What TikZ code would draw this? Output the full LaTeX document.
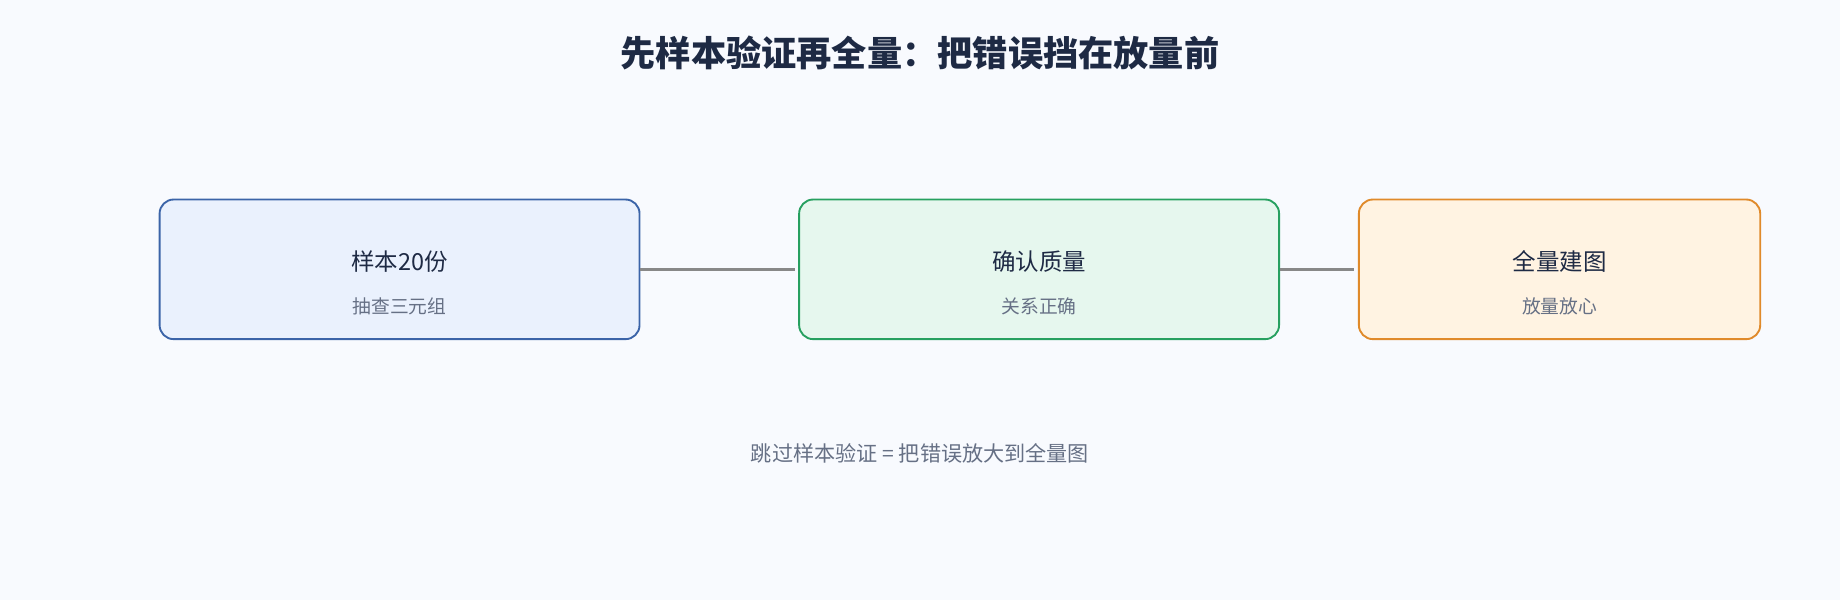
\documentclass[tikz,border=0pt]{standalone}
\usepackage{fontspec}
\setmainfont{Noto Sans CJK SC}
\usetikzlibrary{positioning}
\definecolor{bgcol}{HTML}{F8FAFE}
\definecolor{titlecol}{HTML}{1E2A44}
\definecolor{subcol}{HTML}{667085}
\definecolor{bluefill}{HTML}{EAF1FD}
\definecolor{blueline}{HTML}{3B64A8}
\definecolor{greenfill}{HTML}{E6F7EE}
\definecolor{greenline}{HTML}{27A060}
\definecolor{orangefill}{HTML}{FFF3E2}
\definecolor{orangeline}{HTML}{E08A2A}
\definecolor{linkcol}{HTML}{888888}
\begin{document}
\begin{tikzpicture}[x=0.5pt,y=-0.5pt]
        % Define styles for nodes and edges
        \tikzset{
          stage/.style={rectangle, rounded corners=6pt, line width=0.8pt, minimum height=59.5pt},
          head/.style={text=titlecol, font=\fontsize{10}{12}\selectfont},
          sub/.style={text=subcol, font=\fontsize{8}{10}\selectfont},
          link/.style={line width=1.5pt, draw=linkcol}
        }
        \fill[bgcol] (0,0) rectangle (1568,511);
        \useasboundingbox (0,0) rectangle (1568,511);

        % Title
        \node[text=titlecol, font=\fontsize{15}{18}\selectfont\bfseries] (title) at (784,45) {先样本验证再全量：把错误挡在放量前};

        % Nodes
        \node[stage, fill=bluefill, draw=blueline, minimum width=204.5pt] (sample) at (340.5,229.5) {};
        \node[stage, fill=greenfill, draw=greenline, minimum width=204.5pt] (check) at (885.5,229.5) {};
        \node[stage, fill=orangefill, draw=orangeline, minimum width=171pt] (full) at (1329,229.5) {};
        \node[head] (sampleh) at (340.5,223) {样本20份};
        \node[sub] (samples) at (340.5,261) {抽查三元组};
        \node[head] (checkh) at (885.5,223) {确认质量};
        \node[sub] (checks) at (885.5,261) {关系正确};
        \node[head] (fullh) at (1329,223) {全量建图};
        \node[sub] (fulls) at (1329,261) {放量放心};

        % Links
        \draw[link] (sample.east) -- ([xshift=-1.5pt]check.west);
        \draw[link] (check.east) -- ([xshift=-1.5pt]full.west);

        % Note
        \node[text=subcol, font=\fontsize{9}{11}\selectfont] (note) at (784,386) {跳过样本验证 = 把错误放大到全量图};
\end{tikzpicture}
\end{document}
